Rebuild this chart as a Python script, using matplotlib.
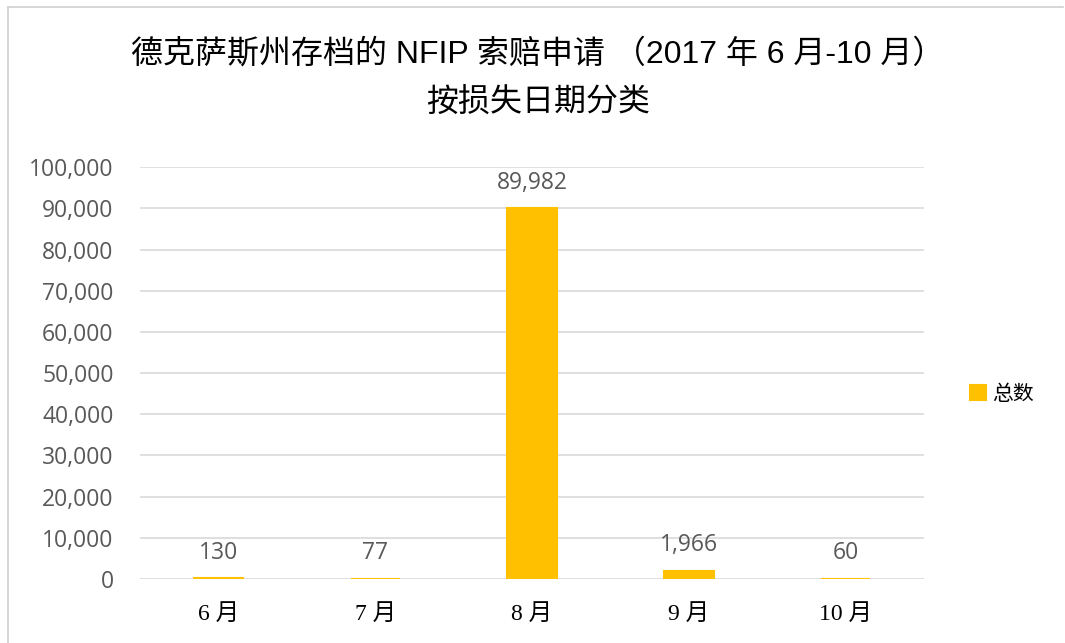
import matplotlib
matplotlib.use('Agg')
import matplotlib.pyplot as plt
from matplotlib.lines import Line2D
from matplotlib.ticker import FuncFormatter

months = ['6 月', '7 月', '8 月', '9 月', '10 月']
claims = [130, 77, 89982, 1966, 60]
y_ticks = [0, 10000, 20000, 30000, 40000, 50000, 60000, 70000, 80000, 90000, 100000]
series_name = '总数'
title = '德克萨斯州存档的 NFIP 索赔申请 （2017 年 6 月-10 月）\n按损失日期分类'

bar_color = '#FFC000'
grid_color = '#D9D9D9'
label_color = '#595959'

plt.rcParams['font.family'] = ['Liberation Sans', 'Noto Sans CJK SC']

fig = plt.figure(figsize=(10.65, 6.43), dpi=100)
ax = fig.add_axes([0.1315, 0.0995, 0.7362, 0.6405])

x = list(range(len(months)))
# thin edge keeps the tiny bars visible like in the original
bars = ax.bar(x, claims, width=0.315, color=bar_color, edgecolor=bar_color,
              linewidth=1.5, zorder=3, label=series_name)

ax.set_xlim(-0.5, len(months) - 0.5)
ax.set_ylim(0, 100000)
ax.set_yticks(y_ticks)
ax.yaxis.set_major_formatter(FuncFormatter(lambda v, p: f'{int(v):,}'))
ax.grid(axis='y', color=grid_color, linewidth=1.2, zorder=0)
for s in ax.spines.values():
    s.set_visible(False)
ax.tick_params(axis='y', length=0, pad=19, labelsize=16.5, labelcolor=label_color)
ax.tick_params(axis='x', length=0, pad=18)
for lbl in ax.get_yticklabels():
    lbl.set_family(['Open Sans', 'DejaVu Sans'])

ax.set_xticks(x)
ax.set_xticklabels(months, fontsize=17, color='#000000',
                   family=['Liberation Serif', 'Noto Sans CJK SC'])

# value labels above bars
for xi, v in zip(x, claims):
    ax.annotate(f'{v:,}', (xi, v), xytext=(0, 10), textcoords='offset points',
                ha='center', va='bottom', fontsize=16.5, color=label_color,
                family=['Open Sans', 'DejaVu Sans'])

fig.suptitle(title, x=0.505, y=0.94, fontsize=23, linespacing=1.8,
             family=['Liberation Sans', 'Noto Sans CJK SC'])

ax.legend(loc='center left', bbox_to_anchor=(1.035, 0.45), frameon=False,
          handlelength=0.75, handleheight=0.75, handletextpad=0.3,
          prop={'family': ['Noto Sans CJK SC'], 'size': 15})

# light frame around the chart area
fig.add_artist(Line2D([0.0075, 0.0075], [0, 0.989], color='#D0D0D0', linewidth=1.2,
                      transform=fig.transFigure))
fig.add_artist(Line2D([0.0075, 0.998], [0.989, 0.989], color='#D0D0D0', linewidth=1.2,
                      transform=fig.transFigure))

fig.savefig('out.png', dpi=100, facecolor='white')
